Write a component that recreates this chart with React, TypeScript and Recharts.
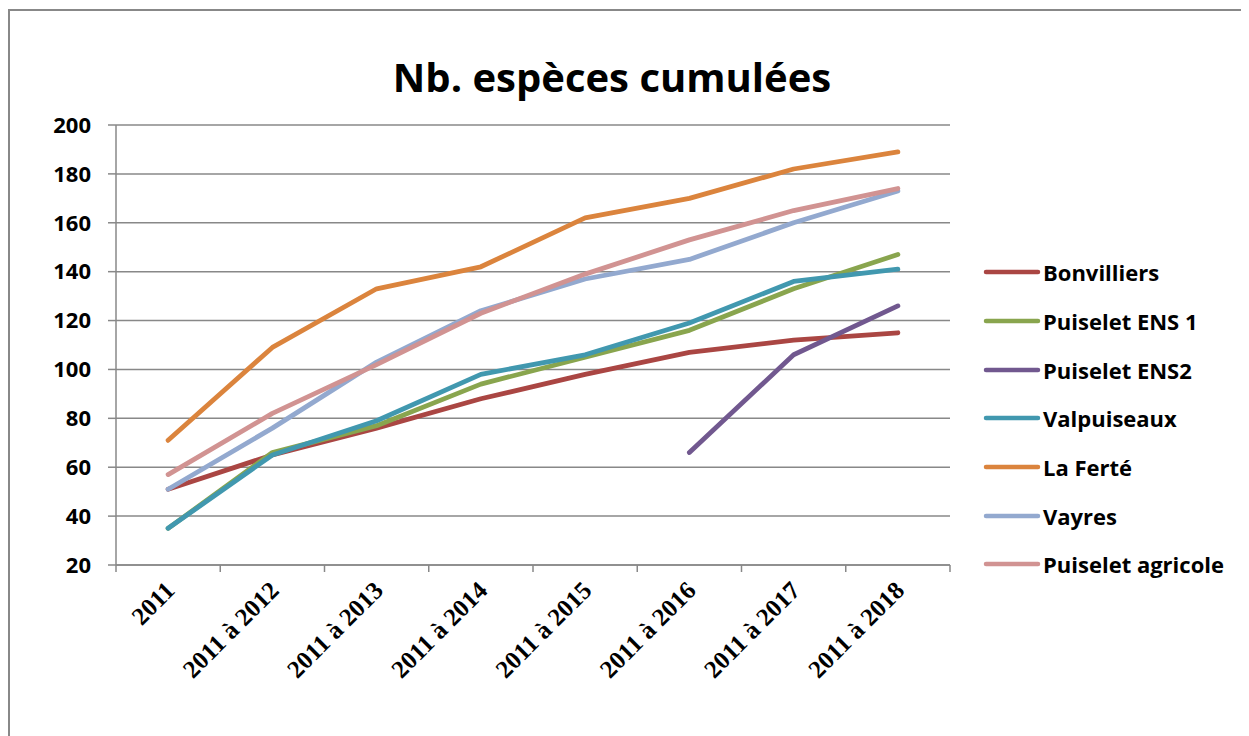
import React from 'react';
import { LineChart, Line, XAxis, YAxis, CartesianGrid, Legend } from 'recharts';

// --- données ---
const periods = [
  '2011',
  '2011 à 2012',
  '2011 à 2013',
  '2011 à 2014',
  '2011 à 2015',
  '2011 à 2016',
  '2011 à 2017',
  '2011 à 2018',
];

const bonvilliers = [51, 65, 76, 88, 98, 107, 112, 115];
const puiseletEns1 = [35, 66, 77, 94, 105, 116, 133, 147];
const puiseletEns2 = [null, null, null, null, null, 66, 106, 126];
const valpuiseaux = [35, 65, 79, 98, 106, 119, 136, 141];
const laFerte = [71, 109, 133, 142, 162, 170, 182, 189];
const vayres = [51, 76, 103, 124, 137, 145, 160, 173];
const puiseletAgricole = [57, 82, 102, 123, 139, 153, 165, 174];

const yTicks = [20, 40, 60, 80, 100, 120, 140, 160, 180, 200];

const series = [
  { key: 'bonvilliers', name: 'Bonvilliers', values: bonvilliers, color: '#AA4643' },
  { key: 'ens1', name: 'Puiselet ENS 1', values: puiseletEns1, color: '#89A54E' },
  { key: 'ens2', name: 'Puiselet ENS2', values: puiseletEns2, color: '#71588F' },
  { key: 'valpuiseaux', name: 'Valpuiseaux', values: valpuiseaux, color: '#4198AF' },
  { key: 'laferte', name: 'La Ferté', values: laFerte, color: '#DB843D' },
  { key: 'vayres', name: 'Vayres', values: vayres, color: '#93A9CF' },
  { key: 'agricole', name: 'Puiselet agricole', values: puiseletAgricole, color: '#D19392' },
];

const data = periods.map((p, i) => {
  const row: Record<string, string | number | null> = { period: p };
  series.forEach((s) => {
    row[s.key] = s.values[i];
  });
  return row;
});

const GRID = '#888888';
const SANS = '"Open Sans", Calibri, sans-serif';

// étiquettes inclinées + graduations entre les catégories
const PeriodTick = (props: any) => {
  const { x, y, payload, index } = props;
  const half = payload?.offset ?? 52;
  const last = index === periods.length - 1;
  const tx = x + 8;
  const ty = y + 19;
  return (
    <g>
      <line x1={x - half} y1={y - 8} x2={x - half} y2={y - 1} stroke={GRID} strokeWidth={1.5} />
      {last && <line x1={x + half} y1={y - 8} x2={x + half} y2={y - 1} stroke={GRID} strokeWidth={1.5} />}
      <text
        x={tx}
        y={ty}
        transform={`rotate(-45, ${tx}, ${ty})`}
        textAnchor="end"
        fontFamily='"Liberation Serif", "Times New Roman", serif'
        fontWeight="bold"
        fontSize={25}
        fill="#000"
      >
        {payload.value}
      </text>
    </g>
  );
};

const LegendContent = () => (
  <div style={{ display: 'flex', flexDirection: 'column' }}>
    {series.map((s) => (
      <div key={s.key} style={{ display: 'flex', alignItems: 'center', height: 48.7 }}>
        <svg width={60} height={10} style={{ flex: 'none' }}>
          <line x1={3} y1={5} x2={55} y2={5} stroke={s.color} strokeWidth={4.5} strokeLinecap="round" />
        </svg>
        <span style={{ fontFamily: SANS, fontWeight: 700, fontSize: 22, color: '#000', whiteSpace: 'nowrap' }}>
          {s.name}
        </span>
      </div>
    ))}
  </div>
);

export default function App() {
  return (
    <div style={{ position: 'relative', width: 1241, height: 728 }}>
      <div
        style={{
          position: 'absolute',
          left: 0,
          top: 1,
          right: -20,
          bottom: -20,
          borderTop: `2px solid ${GRID}`,
          borderLeft: `2px solid ${GRID}`,
          pointerEvents: 'none',
        }}
      />
      <div
        style={{
          position: 'absolute',
          left: 0,
          width: 1208,
          top: 44,
          textAlign: 'center',
          fontFamily: SANS,
          fontWeight: 700,
          fontSize: 40,
          lineHeight: '50px',
          color: '#000',
        }}
      >
        Nb. espèces cumulées
      </div>
      <LineChart width={1241} height={728} data={data} margin={{ top: 117, right: 299, left: 0, bottom: 0 }}>
        <CartesianGrid vertical={false} stroke={GRID} strokeWidth={1.5} />
        <XAxis
          dataKey="period"
          scale="band"
          interval={0}
          height={171}
          tickLine={false}
          axisLine={{ stroke: GRID, strokeWidth: 1.5 }}
          tick={<PeriodTick />}
        />
        <YAxis
          domain={[20, 200]}
          ticks={yTicks}
          interval={0}
          width={108}
          tickSize={8}
          tickMargin={17}
          axisLine={{ stroke: GRID, strokeWidth: 1.5 }}
          tickLine={{ stroke: GRID, strokeWidth: 1.5 }}
          tick={{ fill: '#000', fontSize: 22, fontWeight: 700, fontFamily: SANS }}
        />
        <Legend
          layout="vertical"
          align="center"
          verticalAlign="middle"
          content={<LegendContent />}
          wrapperStyle={{ left: 975, top: 240, width: 266 }}
        />
        {series.map((s) => (
          <Line
            key={s.key}
            dataKey={s.key}
            name={s.name}
            stroke={s.color}
            strokeWidth={4.8}
            strokeLinecap="round"
            strokeLinejoin="round"
            dot={false}
            activeDot={false}
            isAnimationActive={false}
          />
        ))}
      </LineChart>
    </div>
  );
}
